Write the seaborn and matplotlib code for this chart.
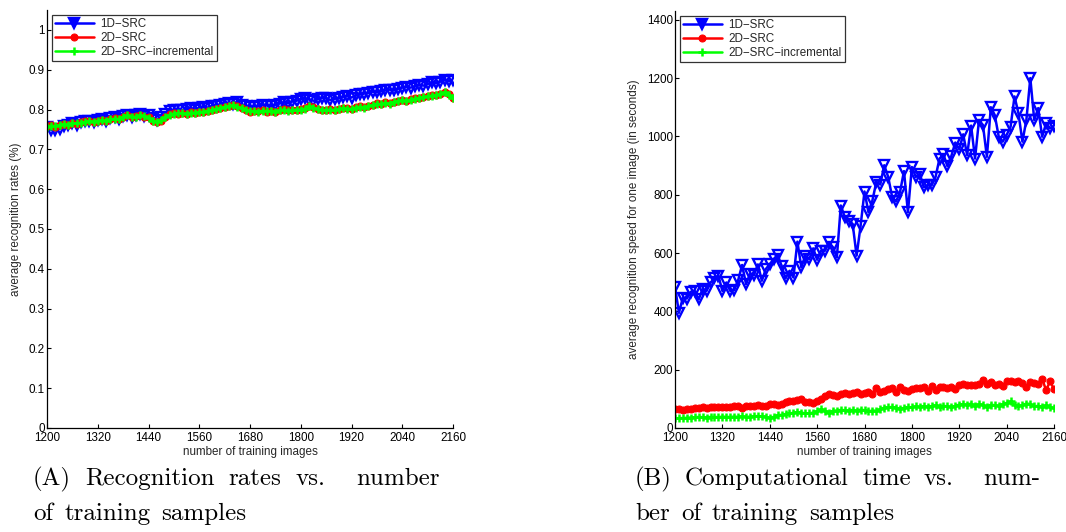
import numpy as np
import pandas as pd
import matplotlib
matplotlib.use("Agg")
import matplotlib.pyplot as plt
import seaborn as sns

# ---------------- data ----------------
n_train = list(range(1200, 2161, 10))

rate_1d = [0.757, 0.749, 0.748, 0.752, 0.758, 0.762, 0.766, 0.760, 0.768, 0.770,
           0.772, 0.768, 0.774, 0.776, 0.770, 0.778, 0.780, 0.776, 0.784, 0.786,
           0.782, 0.785, 0.788, 0.784, 0.786, 0.778, 0.774, 0.782, 0.790, 0.796,
           0.799, 0.800, 0.798, 0.801, 0.803, 0.800, 0.804, 0.807, 0.805, 0.808,
           0.810, 0.812, 0.814, 0.816, 0.815, 0.818, 0.812, 0.808, 0.806, 0.807,
           0.809, 0.812, 0.810, 0.808, 0.812, 0.815, 0.818, 0.816, 0.820, 0.822,
           0.826, 0.828, 0.825, 0.822, 0.826, 0.830, 0.828, 0.824, 0.827, 0.828,
           0.832, 0.834, 0.830, 0.836, 0.838, 0.840, 0.842, 0.845, 0.843, 0.846,
           0.848, 0.850, 0.848, 0.852, 0.855, 0.857, 0.855, 0.858, 0.862, 0.860,
           0.864, 0.868, 0.866, 0.870, 0.874, 0.871, 0.873]

rate_2d = [0.758, 0.760, 0.757, 0.762, 0.764, 0.760, 0.766, 0.764, 0.768, 0.770,
           0.772, 0.768, 0.771, 0.774, 0.770, 0.776, 0.778, 0.775, 0.782, 0.786,
           0.780, 0.783, 0.786, 0.782, 0.780, 0.772, 0.768, 0.772, 0.782, 0.788,
           0.791, 0.790, 0.792, 0.790, 0.793, 0.791, 0.795, 0.793, 0.796, 0.800,
           0.802, 0.805, 0.807, 0.810, 0.812, 0.808, 0.804, 0.800, 0.795, 0.797,
           0.796, 0.798, 0.795, 0.797, 0.795, 0.799, 0.801, 0.798, 0.800, 0.799,
           0.801, 0.803, 0.809, 0.806, 0.802, 0.800, 0.798, 0.801, 0.800, 0.802,
           0.804, 0.803, 0.801, 0.806, 0.808, 0.806, 0.810, 0.812, 0.816, 0.814,
           0.818, 0.816, 0.820, 0.822, 0.824, 0.822, 0.826, 0.828, 0.830, 0.832,
           0.834, 0.836, 0.837, 0.840, 0.845, 0.838, 0.828]

rate_2d_inc = [0.757, 0.759, 0.758, 0.761, 0.763, 0.761, 0.765, 0.765, 0.767, 0.769,
               0.771, 0.769, 0.772, 0.773, 0.771, 0.775, 0.777, 0.776, 0.781, 0.785,
               0.781, 0.782, 0.785, 0.783, 0.779, 0.771, 0.769, 0.773, 0.781, 0.787,
               0.790, 0.791, 0.791, 0.789, 0.792, 0.792, 0.794, 0.794, 0.797, 0.799,
               0.801, 0.804, 0.806, 0.809, 0.811, 0.807, 0.803, 0.799, 0.796, 0.796,
               0.795, 0.797, 0.796, 0.796, 0.794, 0.798, 0.800, 0.797, 0.799, 0.800,
               0.800, 0.802, 0.808, 0.805, 0.801, 0.799, 0.799, 0.800, 0.799, 0.801,
               0.803, 0.802, 0.802, 0.805, 0.807, 0.805, 0.809, 0.811, 0.815, 0.813,
               0.817, 0.815, 0.819, 0.821, 0.823, 0.821, 0.825, 0.827, 0.829, 0.831,
               0.833, 0.835, 0.836, 0.839, 0.843, 0.837, 0.829]

time_1d = [484, 395, 447, 444, 467, 470, 441, 476, 470, 499,
           513, 522, 470, 499, 470, 473, 507, 559, 493, 528,
           524, 561, 505, 545, 562, 579, 594, 556, 513, 539,
           516, 639, 551, 591, 579, 616, 577, 608, 608, 637,
           620, 585, 763, 723, 711, 700, 591, 692, 811, 740,
           780, 844, 835, 901, 861, 792, 777, 809, 881, 740,
           895, 861, 872, 826, 832, 832, 861, 924, 938, 898,
           933, 979, 956, 1007, 936, 1037, 924, 1056, 1039, 930,
           1100, 1073, 999, 982, 1005, 1033, 1137, 1079, 982, 1056,
           1200, 1056, 1097, 999, 1045, 1028, 1035]

time_2d = [64, 64, 63, 65, 66, 68, 70, 71, 69, 72,
           73, 71, 72, 72, 73, 74, 76, 70, 75, 77,
           76, 78, 77, 76, 84, 82, 79, 82, 88, 92,
           94, 97, 100, 90, 88, 87, 93, 101, 110, 118,
           112, 110, 115, 120, 118, 121, 122, 116, 120, 124,
           118, 138, 122, 126, 133, 138, 125, 140, 132, 128,
           135, 136, 138, 142, 128, 145, 130, 140, 139, 136,
           142, 134, 147, 150, 146, 149, 148, 152, 163, 150,
           158, 146, 152, 145, 160, 162, 158, 160, 155, 141,
           159, 154, 150, 168, 130, 160, 133]

time_2d_inc = [33, 34, 34, 35, 36, 37, 38, 37, 36, 38,
               38, 37, 39, 38, 38, 39, 38, 40, 38, 39,
               40, 41, 40, 39, 35, 38, 44, 45, 48, 50,
               52, 55, 53, 50, 50, 53, 58, 64, 60, 53,
               59, 60, 62, 61, 60, 62, 59, 63, 61, 57,
               60, 59, 64, 70, 71, 72, 70, 66, 69, 72,
               71, 74, 72, 75, 73, 75, 78, 73, 76, 74,
               72, 76, 80, 82, 79, 84, 75, 82, 79, 72,
               80, 78, 76, 82, 86, 91, 80, 76, 78, 84,
               82, 74, 76, 73, 78, 72, 68]

series_names = ["1D\u2212SRC", "2D\u2212SRC", "2D\u2212SRC\u2212incremental"]
x_ticks = [1200, 1320, 1440, 1560, 1680, 1800, 1920, 2040, 2160]
rate_ticks = [0, 0.1, 0.2, 0.3, 0.4, 0.5, 0.6, 0.7, 0.8, 0.9, 1]
time_ticks = [0, 200, 400, 600, 800, 1000, 1200, 1400]

caption_a = [["(A)", "Recognition", "rates", "vs.", "number"],
             ["of", "training", "samples"]]
caption_b = [["(B)", "Computational", "time", "vs.", "num-"],
             ["ber", "of", "training", "samples"]]

# ---------------- style ----------------
sns.set_theme(style="ticks")
plt.rcParams["font.family"] = ["Liberation Sans", "DejaVu Sans"]
plt.rcParams["xtick.direction"] = "in"
plt.rcParams["ytick.direction"] = "in"

W, H = 1066, 532
fig = plt.figure(figsize=(W / 100, H / 100), dpi=100)

def ax_rect(x0, x1, ytop, ybot):
    return [x0 / W, 1 - ybot / H, (x1 - x0) / W, (ybot - ytop) / H]

styles = [
    dict(color="#0000ff", marker="v", markersize=7, markerfacecolor="none",
         markeredgecolor="#0000ff", markeredgewidth=1.7, linewidth=1.8),
    dict(color="#ff0000", marker="o", markersize=5, markerfacecolor="#ff0000",
         markeredgecolor="#ff0000", markeredgewidth=0.8, linewidth=1.8),
    dict(color="#00ff00", marker="+", markersize=6, markerfacecolor="#00ff00",
         markeredgecolor="#00ff00", markeredgewidth=1.8, linewidth=1.8),
]

FS = 8.4

def panel(ax, ys, ylim, yticks, ylabel, ytl):
    for name, y, st in zip(series_names, ys, styles):
        df = pd.DataFrame({"x": n_train, "y": y})
        sns.lineplot(data=df, x="x", y="y", ax=ax, label=name, **st)
    ax.set_xlim(1200, 2160)
    ax.set_ylim(*ylim)
    ax.set_xticks(x_ticks)
    ax.set_xticklabels([str(t) for t in x_ticks])
    ax.set_yticks(yticks)
    ax.set_yticklabels(ytl)
    ax.tick_params(labelsize=FS, length=3, width=0.8, colors="black")
    ax.tick_params(axis="x", pad=3)
    ax.tick_params(axis="y", pad=1.5)
    ax.set_xlabel("number of training images", fontsize=FS, labelpad=1)
    ax.set_ylabel(ylabel, fontsize=FS, labelpad=5)
    for s in ["top", "right"]:
        ax.spines[s].set_visible(False)
    for s in ["left", "bottom"]:
        ax.spines[s].set_color("black")
        ax.spines[s].set_linewidth(0.9)
    leg = ax.legend(loc="upper left", fontsize=FS, frameon=True, fancybox=False,
                    handlelength=3.3, handletextpad=0.6, borderpad=0.3,
                    labelspacing=0.15, borderaxespad=0.4, bbox_to_anchor=(0.0, 1.0))
    leg.get_frame().set_edgecolor("black")
    leg.get_frame().set_linewidth(0.9)
    for h in leg.legend_handles:
        h.set_markerfacecolor(h.get_color())

ax1 = fig.add_axes(ax_rect(47, 453, 10, 428))
panel(ax1, [rate_1d, rate_2d, rate_2d_inc], (0, 1.05), rate_ticks,
      "average recognition rates (%)",
      ["0", "0.1", "0.2", "0.3", "0.4", "0.5", "0.6", "0.7", "0.8", "0.9", "1"])

ax2 = fig.add_axes(ax_rect(675, 1054, 11, 428))
panel(ax2, [time_1d, time_2d, time_2d_inc], (0, 1430), time_ticks,
      "average recognition speed for one image (in seconds)",
      [str(t) for t in time_ticks])

# captions: first line justified to the column, second line natural spacing
cap_font = dict(family=["cmr10", "DejaVu Serif"], fontsize=18, color="black")
renderer = fig.canvas.get_renderer()

def word_width(word):
    t = fig.text(0, 0, word, **cap_font)
    w = t.get_window_extent(renderer).width
    t.remove()
    return w

def draw_line(words, left, yb, right=None, gap=11):
    widths = [word_width(w) for w in words]
    if right is None:
        gaps = [gap] * (len(words) - 1)
    else:
        weights = [2.2 if w.endswith(".") else 1.0 for w in words[:-1]]
        free = (right - left) - sum(widths)
        unit = free / sum(weights)
        gaps = [unit * k for k in weights]
    x = left
    for i, w in enumerate(words):
        fig.text(x / W, 1 - yb / H, w, **cap_font)
        x += widths[i] + (gaps[i] if i < len(gaps) else 0)

draw_line(caption_a[0], 33, 485, right=440)
draw_line(caption_a[1], 33, 520)
draw_line(caption_b[0], 635, 485, right=1040)
draw_line(caption_b[1], 635, 520)

fig.savefig("out.png", dpi=100)
